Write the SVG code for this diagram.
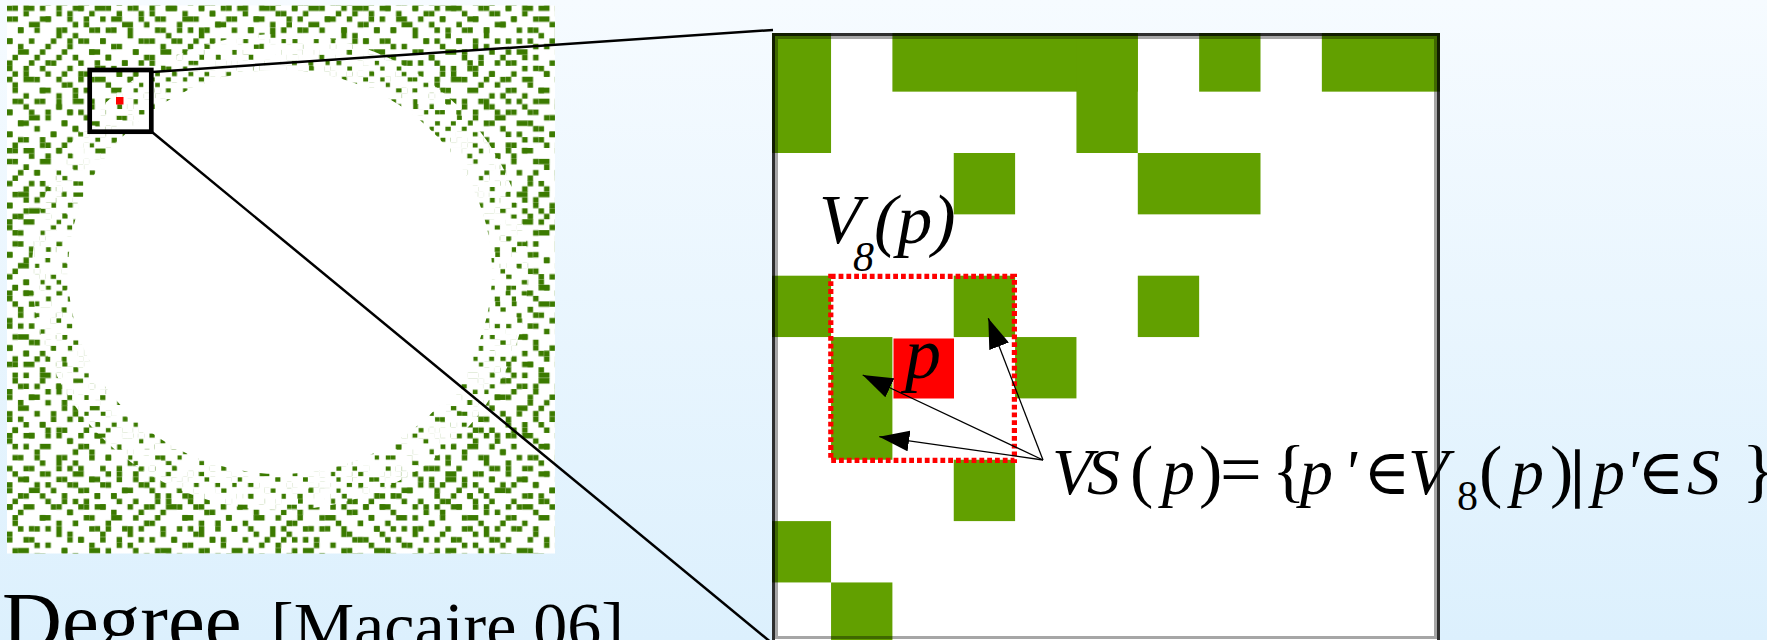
<svg xmlns="http://www.w3.org/2000/svg" width="1767" height="640" viewBox="0 0 1767 640">
<defs>
<linearGradient id="bg" x1="0" y1="0" x2="0" y2="1"><stop offset="0" stop-color="#f6fbff"/><stop offset="1" stop-color="#dcf0fd"/></linearGradient>
<pattern id="pa" patternUnits="userSpaceOnUse" width="13" height="13" patternTransform="translate(7 5.5) scale(5.48)"><path class="tx" d="M0 0h1v1h-1zM3 0h1v1h-1zM4 0h1v1h-1zM9 0h1v1h-1zM11 1h1v1h-1zM1 2h1v1h-1zM6 2h1v1h-1zM7 2h1v1h-1zM12 3h1v1h-1zM2 4h1v1h-1zM5 4h1v1h-1zM9 4h1v1h-1zM9 5h1v1h-1zM0 6h1v1h-1zM4 6h1v1h-1zM11 6h1v1h-1zM7 7h1v1h-1zM2 8h1v1h-1zM3 8h1v1h-1zM10 8h1v1h-1zM5 9h1v1h-1zM12 9h1v1h-1zM0 10h1v1h-1zM8 10h1v1h-1zM3 11h1v1h-1zM6 11h1v1h-1zM10 12h1v1h-1zM1 12h1v1h-1zM7 12h1v1h-1z"/></pattern>
<pattern id="pb" patternUnits="userSpaceOnUse" width="17" height="17" patternTransform="translate(7 5.5) scale(5.48)"><path class="tx" d="M1 0h1v1h-1zM6 0h1v1h-1zM12 0h1v1h-1zM13 0h1v1h-1zM3 1h1v1h-1zM9 1h1v1h-1zM15 1h1v1h-1zM0 2h1v1h-1zM7 2h1v1h-1zM11 2h1v1h-1zM4 3h1v1h-1zM5 3h1v1h-1zM14 3h1v1h-1zM2 4h1v1h-1zM10 4h1v1h-1zM16 4h1v1h-1zM12 5h1v1h-1zM0 6h1v1h-1zM8 6h1v1h-1zM14 6h1v1h-1zM2 7h1v1h-1zM11 7h1v1h-1zM6 8h1v1h-1zM15 8h1v1h-1zM1 9h1v1h-1zM9 9h1v1h-1zM4 10h1v1h-1zM7 10h1v1h-1zM16 10h1v1h-1zM0 11h1v1h-1zM11 11h1v1h-1zM3 12h1v1h-1zM13 12h1v1h-1zM5 13h1v1h-1zM15 13h1v1h-1zM1 14h1v1h-1zM10 14h1v1h-1zM6 15h1v1h-1zM12 15h1v1h-1zM3 16h1v1h-1zM9 16h1v1h-1z"/></pattern>
<pattern id="pe" patternUnits="userSpaceOnUse" width="9" height="9" patternTransform="translate(7 5.5) scale(5.48)"><path fill="#fff" d="M-0.1 -0.1h2.2v1.2h-2.2zM3.9 -0.1h1.2v1.2h-1.2zM5.9 -0.1h2.2v1.2h-2.2zM1.9 0.9h2.2v1.2h-2.2zM4.9 0.9h1.2v1.2h-1.2zM7.9 0.9h1.2v1.2h-1.2zM-0.1 1.9h1.2v1.2h-1.2zM3.9 1.9h1.2v1.2h-1.2zM5.9 1.9h2.2v1.2h-2.2zM0.9 2.9h2.2v1.2h-2.2zM4.9 2.9h1.2v1.2h-1.2zM7.9 2.9h1.2v1.2h-1.2zM-0.1 3.9h1.2v1.2h-1.2zM2.9 3.9h2.2v1.2h-2.2zM5.9 3.9h1.2v1.2h-1.2zM0.9 4.9h2.2v1.2h-2.2zM4.9 4.9h1.2v1.2h-1.2zM6.9 4.9h2.2v1.2h-2.2zM-0.1 5.9h1.2v1.2h-1.2zM2.9 5.9h2.2v1.2h-2.2zM5.9 5.9h1.2v1.2h-1.2zM1.9 6.9h1.2v1.2h-1.2zM4.9 6.9h1.2v1.2h-1.2zM6.9 6.9h2.2v1.2h-2.2zM-0.1 7.9h2.2v1.2h-2.2zM2.9 7.9h2.2v1.2h-2.2zM5.9 7.9h1.2v1.2h-1.2z"/></pattern>
<marker id="ah" markerUnits="userSpaceOnUse" markerWidth="30" markerHeight="21" viewBox="0 0 30 21" refX="30" refY="10.5" orient="auto"><path d="M0,0 L30,10.5 L0,21 z" fill="#000"/></marker>
<clipPath id="boxclip"><rect x="772" y="33" width="668" height="610"/></clipPath>
</defs>
<style>
.tx{fill:#3b7a00}
.cell{fill:#62a000}
.serif{font-family:"Liberation Serif","Times New Roman","DejaVu Serif",serif;fill:#000}
.it{font-style:italic}
.arrow{stroke:#000;stroke-width:1.3;fill:none;marker-end:url(#ah)}
.zl{stroke:#000;stroke-width:2.5;fill:none}
</style>
<rect width="1767" height="640" fill="url(#bg)"/>
<g id="texture">
<rect x="7" y="5.5" width="548" height="548" fill="#fff"/>
<rect x="7" y="5.5" width="548" height="548" fill="url(#pa)"/>
<rect x="7" y="5.5" width="548" height="548" fill="url(#pb)"/>
<ellipse cx="280" cy="272" rx="248" ry="238" fill="url(#pe)"/>
<ellipse cx="280" cy="272" rx="212" ry="202" fill="#fff"/>
<rect x="116" y="97" width="7.5" height="7.5" fill="#f00"/>
</g>
<g id="zoom-box">
<rect x="89.7" y="70" width="61.6" height="61.7" fill="none" stroke="#000" stroke-width="4.7"/>
</g>
<g id="magnified">
<rect x="772" y="33" width="668" height="610" fill="#fff"/>
<g clip-path="url(#boxclip)" class="cell">
<rect x="769.7" y="30.3" width="61.35" height="122.7"/>
<rect x="892.4" y="30.3" width="245.4" height="61.35"/>
<rect x="1076.45" y="30.3" width="61.35" height="122.7"/>
<rect x="1199.15" y="30.3" width="61.35" height="61.35"/>
<rect x="1321.85" y="30.3" width="122.7" height="61.35"/>
<rect x="953.75" y="153" width="61.35" height="61.35"/>
<rect x="1137.8" y="153" width="122.7" height="61.35"/>
<rect x="769.7" y="275.7" width="61.35" height="61.35"/>
<rect x="953.75" y="275.7" width="61.35" height="61.35"/>
<rect x="1137.8" y="275.7" width="61.35" height="61.35"/>
<rect x="831.05" y="337.05" width="61.35" height="122.7"/>
<rect x="1015.1" y="337.05" width="61.35" height="61.35"/>
<rect x="953.75" y="459.75" width="61.35" height="61.35"/>
<rect x="769.7" y="521.1" width="61.35" height="61.35"/>
<rect x="831.05" y="582.45" width="61.35" height="61.35"/>
</g>
<rect id="pixel-p" x="893.5" y="338.5" width="60.5" height="60" fill="#f00"/>
<rect id="v8-box" x="830.8" y="276.3" width="183.6" height="184" fill="none" stroke="#f00" stroke-width="5.2" stroke-dasharray="4.8 3"/>
</g>
<g id="connectors">
<line class="zl" x1="152" y1="72" x2="773" y2="30"/>
<line class="zl" x1="152" y1="132" x2="773" y2="644"/>
<line class="arrow" x1="1043" y1="460" x2="988.3" y2="318.3"/>
<line class="arrow" x1="1043" y1="460" x2="862.7" y2="375"/>
<line class="arrow" x1="1043" y1="460" x2="879.3" y2="436.7"/>
</g>
<g id="label-v8">
<text class="serif it" font-size="70" y="243"><tspan x="819">V</tspan><tspan x="853" y="271" font-size="42">8</tspan><tspan x="874" y="243">(p)</tspan></text>
</g>
<g id="label-p">
<text class="serif it" font-size="72" x="905" y="378">p</text>
</g>
<g id="formula">
<text class="serif" font-size="64" y="494"><tspan class="it" x="1052" font-size="66">V</tspan><tspan class="it" x="1087" font-size="66">S</tspan><tspan x="1130" font-size="70">(</tspan><tspan class="it" x="1162" font-size="66">p</tspan><tspan x="1199" font-size="70">)</tspan><tspan x="1220" font-size="74">=</tspan><tspan x="1272" font-size="70">{</tspan><tspan class="it" x="1300" font-size="66">p</tspan><tspan class="it" x="1343">'</tspan><tspan x="1363">∈</tspan><tspan class="it" x="1408" font-size="66">V</tspan><tspan x="1457" y="510" font-size="42">8</tspan><tspan x="1479" y="494" font-size="70">(</tspan><tspan class="it" x="1511" font-size="66">p</tspan><tspan x="1550" font-size="70">)</tspan><tspan x="1571" stroke="#000" stroke-width="1.5">|</tspan><tspan class="it" x="1592" font-size="66">p</tspan><tspan class="it" x="1625">'</tspan><tspan x="1637">∈</tspan><tspan class="it" x="1687" font-size="66">S</tspan><tspan x="1742" font-size="70">}</tspan></text>
</g>
<g id="caption">
<text class="serif" y="649"><tspan x="2" font-size="83">Degree</tspan><tspan x="271" font-size="68">[Macaire 06]</tspan></text>
</g>
<g id="magnified-frame">
<rect x="773.5" y="34.5" width="665" height="607" fill="none" stroke="#000" stroke-opacity="0.82" stroke-width="3"/>
<rect x="776.5" y="37.5" width="659" height="600" fill="none" stroke="#000" stroke-opacity="0.35" stroke-width="3"/>
</g>
</svg>
